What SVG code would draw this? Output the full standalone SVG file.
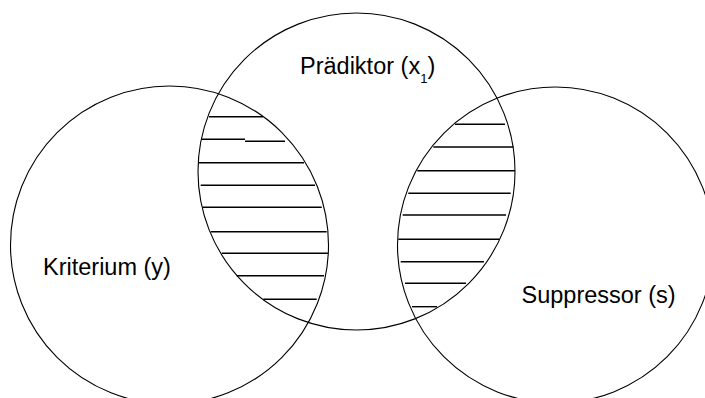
<svg xmlns="http://www.w3.org/2000/svg" width="705" height="398" viewBox="0 0 705 398">
<style>
.c{fill:none;stroke:#000;stroke-width:1.1}
.h{stroke:#000;stroke-width:1.4;fill:none}
.t{font-family:"Liberation Sans",Arial,sans-serif;font-size:23.5px;fill:#000}
</style>
<rect width="705" height="398" fill="#fff"/>
<g id="kriterium">
<circle class="c" cx="169.5" cy="245" r="159"/>
<text class="t" x="43" y="275">Kriterium (y)</text>
</g>
<g id="praediktor">
<circle class="c" cx="356.5" cy="171.5" r="158.5"/>
<text class="t" x="300" y="73.5">Prädiktor (x<tspan font-size="13" dy="9">1</tspan><tspan dy="-9">)</tspan></text>
</g>
<g id="suppressor">
<circle class="c" cx="555.5" cy="245" r="158"/>
<text class="t" x="521.5" y="302.5">Suppressor (s)</text>
</g>
<g id="hatch-left" class="h">
<line x1="209" y1="116.7" x2="263" y2="116.7"/>
<line x1="201.7" y1="139.3" x2="245" y2="139.3"/>
<line x1="245" y1="141.3" x2="285" y2="141.3"/>
<line x1="198.3" y1="162.7" x2="304" y2="162.7"/>
<line x1="200.7" y1="185.3" x2="315" y2="185.3"/>
<line x1="202.7" y1="207.3" x2="321.7" y2="207.3"/>
<line x1="210.7" y1="231.7" x2="326.7" y2="231.7"/>
<line x1="221.7" y1="253.3" x2="328.3" y2="253.3"/>
<line x1="236.7" y1="275.7" x2="324" y2="275.7"/>
<line x1="263.3" y1="299.3" x2="316.7" y2="299.3"/>
</g>
<g id="hatch-right" class="h">
<line x1="455" y1="124.3" x2="505" y2="124.3"/>
<line x1="433.3" y1="147" x2="513.3" y2="147"/>
<line x1="417.3" y1="170.7" x2="515" y2="170.7"/>
<line x1="408.3" y1="193.3" x2="510.7" y2="193.3"/>
<line x1="402.7" y1="215" x2="506" y2="215"/>
<line x1="398.3" y1="239.3" x2="499.3" y2="239.3"/>
<line x1="400.7" y1="261.7" x2="484" y2="261.7"/>
<line x1="405" y1="283.3" x2="466" y2="283.3"/>
<line x1="412" y1="306.7" x2="437" y2="306.7"/>
</g>
<g id="connectors"/>
</svg>
